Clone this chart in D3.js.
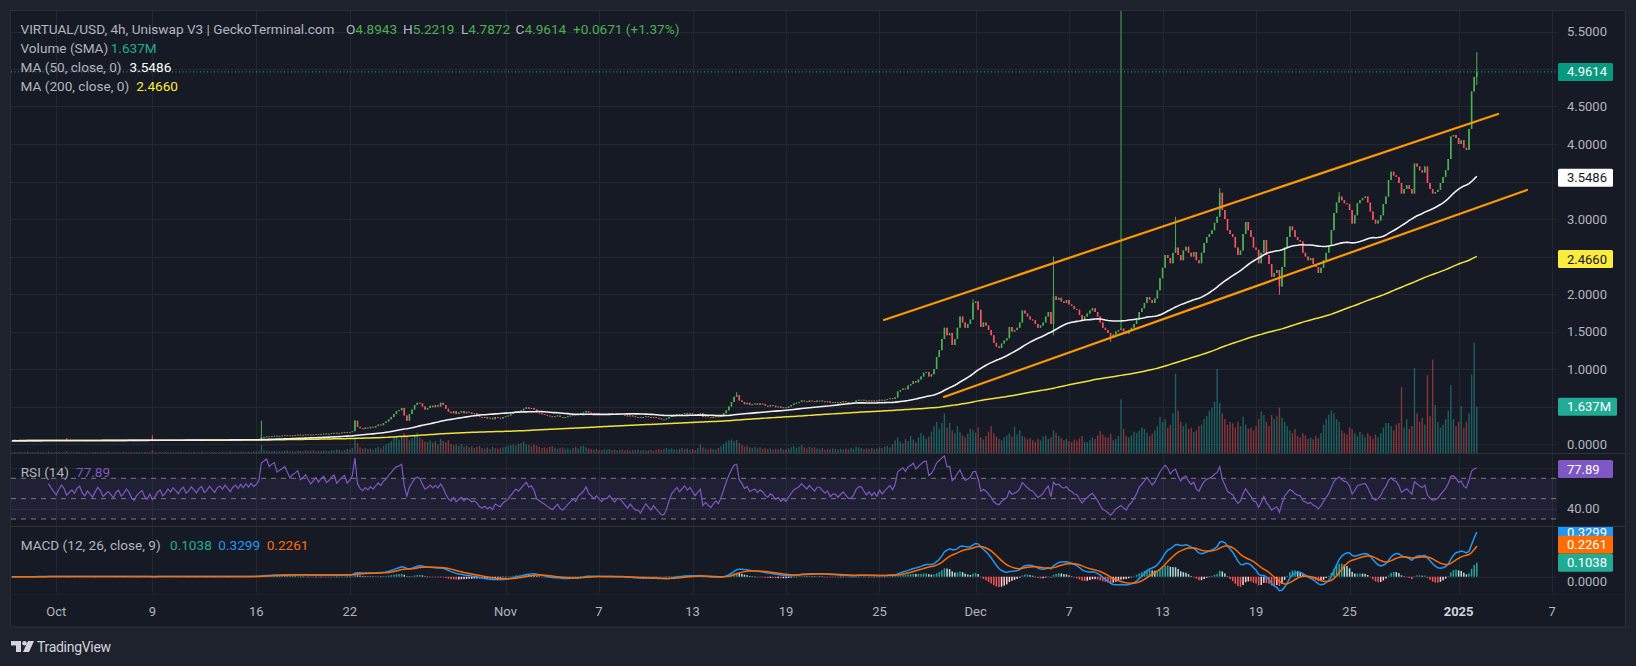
<!DOCTYPE html>
<html><head><meta charset="utf-8">
<script src="https://cdn.jsdelivr.net/npm/d3@7"></script>
<style>
html,body{margin:0;padding:0;background:#1e222d;overflow:hidden;}
svg{display:block;font-family:Roboto,"Noto Sans",sans-serif;}
</style></head><body>
<svg id="c" width="1636" height="666"></svg>
<script>
// ---------- DATA (4h candles, index based like TradingView) ----------
const closesOctEarly = [
0.044,0.045,0.044,0.046,0.045,0.045,0.047,0.046,0.045,0.046,
0.048,0.047,0.046,0.047,0.049,0.048,0.047,0.046,0.048,0.050,
0.049,0.047,0.048,0.049,0.048,0.050,0.051,0.049,0.048,0.050,
0.049,0.048,0.050,0.052,0.051,0.049,0.050,0.051,0.050,0.049,
0.051,0.052,0.050,0.051,0.053,0.052,0.050,0.049,0.051,0.052,
0.053,0.051,0.050,0.052,0.050,
0.051,0.053,0.054,0.052,0.053,0.055,0.054,0.056,0.055,0.054,
0.056,0.057,0.055,0.056,0.058,0.057,0.056,0.058,0.059,0.057,
0.058,0.060,0.059,0.058,0.060,0.061,0.060,0.062,0.061,0.060,
0.062,0.063,0.062,0.064,0.063,0.065,0.064,0.066,0.065];
const closesOctLate = [
0.066,0.068,0.090,0.095,0.102,0.098,0.105,0.110,0.104,0.108,
0.112,0.118,0.114,0.110,0.116,0.120,0.125,0.118,0.122,0.128,
0.124,0.120,0.126,0.132,0.128,0.135,0.140,0.134,0.138,0.145,
0.150,0.142,0.148,0.155,0.160,0.152,0.158,
0.17,0.31,0.23,0.21,0.20,0.22,0.21,0.23,0.22,0.24,
0.26,0.25,0.28,0.30,0.33,0.36,0.40,0.44,0.45,0.48,
0.38,0.31,0.40,0.46,0.52,0.55,0.54,0.50,0.46,0.48,
0.51,0.49,0.52,0.50,0.55,0.52,0.47,0.43,0.41,0.44,
0.40,0.42,0.44,0.41,0.43,0.42,0.40,0.41,0.39,0.36,
0.35,0.36,0.34,0.35,0.33,0.36,0.35,0.34,0.36,0.37];
const closesNov = [
0.38,0.40,0.42,0.44,0.43,0.45,0.47,0.49,0.47,0.48,
0.46,0.42,0.41,0.40,0.39,0.38,0.37,0.36,0.37,0.38,
0.36,0.35,0.36,0.37,0.38,0.39,0.38,0.40,0.41,0.42,
0.44,0.42,0.41,0.40,0.41,0.40,0.39,0.40,0.40,0.41,
0.40,0.39,0.40,0.40,0.39,0.38,0.37,0.38,0.37,0.36,
0.36,0.35,0.36,0.37,0.36,0.35,0.36,0.35,0.34,0.33,
0.33,0.34,0.36,0.38,0.39,0.40,0.39,0.40,0.41,0.40,
0.41,0.40,0.39,0.40,0.41,0.36,0.37,0.36,0.35,0.36,
0.37,0.36,0.38,0.41,0.45,0.50,0.56,0.63,0.65,0.58,
0.56,0.53,0.55,0.52,0.53,0.54,0.52,0.54,0.53,0.51,
0.50,0.52,0.51,0.49,0.50,0.48,0.49,0.48,0.50,0.52,
0.54,0.55,0.56,0.58,0.57,0.56,0.58,0.57,0.56,0.58,
0.58,0.57,0.56,0.57,0.55,0.56,0.56,0.55,0.56,0.57,
0.56,0.55,0.55,0.56,0.58,0.59,0.59,0.58,0.57,0.58,
0.57,0.58,0.57,0.59];
const closesLateNovDec = [
0.58,0.59,0.60,0.61,0.60,0.62,
0.70,0.72,0.74,0.73,0.78,0.80,0.84,0.82,0.86,0.90,
0.95,0.96,0.90,0.93,1.00,1.16,1.25,1.40,1.55,1.45,
1.48,1.32,1.40,1.55,1.70,1.62,1.55,1.60,1.66,1.88,
1.90,1.79,1.56,1.62,1.58,1.52,1.45,1.35,1.30,1.28,
1.34,1.38,1.41,1.56,1.50,1.52,1.55,1.62,1.78,1.74,
1.70,1.66,1.65,1.60,1.55,1.58,1.62,1.70,1.76,1.60,
1.97,1.92,1.95,1.90,1.88,1.92,1.86,1.84,1.80,1.79,
1.72,1.65,1.70,1.74,1.78,1.81,1.76,1.70,1.62,1.55,
1.52,1.48,1.43,1.46,1.50,1.52,1.54,1.50,1.47,1.52,
1.55,1.60,1.66,1.76,1.81,1.88,1.96,1.92,1.88,1.94,
2.05,2.21,2.35,2.52,2.48,2.41,2.55,2.62,2.52,2.45,
2.58,2.63,2.55,2.50,2.56,2.45,2.41,2.55,2.68,2.76];
const closesDecJan = [
2.80,2.85,2.95,3.03,3.35,3.12,3.00,2.85,2.80,2.76,
2.62,2.52,2.58,2.80,2.96,2.85,2.76,2.62,2.59,2.41,
2.55,2.72,2.52,2.40,2.23,2.28,2.32,2.10,2.36,2.62,
2.76,2.90,2.85,2.76,2.72,2.70,2.55,2.50,2.45,2.48,
2.40,2.36,2.28,2.35,2.45,2.55,2.65,2.85,3.08,3.22,
3.30,3.25,3.21,3.20,3.12,2.94,3.05,3.21,3.25,3.28,
3.30,3.22,3.10,2.99,2.94,2.98,3.05,3.20,3.30,3.52,
3.63,3.58,3.56,3.48,3.34,3.40,3.45,3.40,3.34,3.74,
3.70,3.65,3.62,3.70,3.48,3.40,3.34,3.36,3.39,3.48,
3.56,3.65,3.80,4.10,4.12,4.08,4.00,4.05,3.95,3.92,
4.20,4.70,4.8943,4.9614];
// notable wicks (candle index -> price)
const highWicks = {21:0.08, 54:0.115, 96:0.31, 132:0.32, 279:0.69, 370:1.93, 401:2.50, 427:6.0, 448:3.03, 465:3.41, 511:3.36, 564:5.2219};
const lowWicks = {401:1.45, 423:1.36, 488:1.99, 564:4.7872};

// volume in millions
const volumesOct = [
0.02,0.03,0.02,0.04,0.02,0.03,0.05,0.02,0.03,0.02,
0.04,0.02,0.03,0.02,0.05,0.03,0.02,0.03,0.04,0.02,
0.03,0.06,0.02,0.03,0.02,0.04,0.03,0.02,0.03,0.02,
0.02,0.03,0.04,0.02,0.03,0.02,0.03,0.05,0.02,0.03,
0.02,0.03,0.02,0.04,0.03,0.02,0.03,0.02,0.04,0.03,
0.02,0.03,0.02,0.04,0.09,0.03,0.02,0.03,0.02,0.04,
0.03,0.02,0.03,0.02,0.03,0.04,0.02,0.03,0.02,0.03,
0.04,0.02,0.03,0.05,0.02,0.03,0.02,0.04,0.03,0.02,
0.03,0.04,0.02,0.03,0.05,0.03,0.04,0.03,0.05,0.04,
0.03,0.05,0.04,0.06,0.05,0.06,0.28,0.10,0.08,0.07,
0.06,0.08,0.05,0.07,0.06,0.08,0.09,0.06,0.07,0.05,
0.08,0.07,0.06,0.09,0.07,0.08,0.10,0.06,0.08,0.07,
0.09,0.08,0.07,0.10,0.09,0.12,0.11,0.08,0.10,0.14,
0.12,0.18,0.55,0.35,0.20,0.15,0.18,0.14,0.16,0.12,
0.18,0.22,0.16,0.25,0.30,0.35,0.42,0.55,0.60,0.48,
0.62,0.70,0.58,0.45,0.52,0.66,0.72,0.55,0.48,0.40,
0.38,0.44,0.36,0.42,0.30,0.50,0.42,0.38,0.45,0.32,
0.28,0.30,0.25,0.32,0.22,0.26,0.20,0.24,0.18,0.22,
0.25,0.18,0.16,0.20,0.14,0.22,0.18,0.15,0.17,0.20];
const volumesNov = [
0.22,0.25,0.28,0.30,0.26,0.32,0.35,0.40,0.30,0.28,
0.24,0.30,0.26,0.22,0.18,0.20,0.16,0.22,0.24,0.18,
0.15,0.18,0.20,0.14,0.16,0.12,0.18,0.22,0.16,0.24,
0.26,0.20,0.16,0.14,0.12,0.15,0.11,0.10,0.13,0.12,
0.14,0.10,0.12,0.09,0.11,0.13,0.10,0.12,0.09,0.11,
0.10,0.12,0.09,0.11,0.08,0.10,0.12,0.09,0.11,0.14,
0.12,0.15,0.18,0.14,0.16,0.13,0.12,0.15,0.18,0.14,
0.16,0.12,0.14,0.11,0.18,0.30,0.20,0.15,0.12,0.16,
0.14,0.12,0.18,0.24,0.32,0.40,0.45,0.48,0.42,0.46,
0.35,0.28,0.22,0.26,0.20,0.18,0.22,0.16,0.20,0.15,
0.18,0.14,0.16,0.12,0.15,0.13,0.17,0.12,0.14,0.16,
0.20,0.24,0.18,0.22,0.28,0.20,0.16,0.22,0.18,0.20,
0.16,0.14,0.18,0.12,0.15,0.13,0.16,0.14,0.12,0.15,
0.13,0.16,0.14,0.18,0.15,0.22,0.20,0.17,0.14,0.16,
0.15,0.18,0.14,0.16,0.20,0.18,0.22,0.25,0.20,0.30,
0.45,0.55,0.40,0.35,0.50,0.42,0.60,0.48,0.38,0.55,
0.70,0.62,0.50,0.58,0.75,0.95,1.10,0.85,1.06,1.40,
0.90,1.06,0.80,0.70,0.95,0.75,0.62,0.55,0.68,0.85];
const volumesDecJan = [
0.80,0.72,0.90,0.55,0.48,0.60,0.75,0.95,0.70,0.58,
0.50,0.45,0.55,0.62,0.70,0.58,0.93,0.65,0.80,0.60,
0.55,0.48,0.52,0.45,0.40,0.50,0.44,0.58,0.62,0.50,
0.55,0.81,0.70,0.60,0.52,0.45,0.50,0.42,0.38,0.48,
0.44,0.52,0.60,0.40,0.38,0.45,0.55,0.50,0.62,0.78,
0.65,0.58,0.55,0.68,0.45,0.50,0.60,1.90,0.85,0.60,
0.55,0.62,0.75,0.70,0.78,0.90,0.85,0.72,0.60,0.68,
0.80,0.95,1.28,1.10,1.20,0.90,1.00,1.40,2.80,1.50,
1.10,0.95,1.05,0.85,0.90,0.75,0.80,0.95,1.00,1.20,
1.30,1.50,1.60,1.81,2.97,1.77,1.40,1.20,1.00,1.10,
1.05,0.90,1.10,0.95,1.28,1.00,0.85,0.90,0.80,0.95,
1.20,1.47,1.34,1.10,0.95,1.34,1.20,1.30,1.60,1.25,
1.10,0.95,0.80,0.70,0.85,0.60,0.55,0.70,0.62,0.50,
0.55,0.48,0.60,0.52,0.70,1.00,1.20,1.35,1.50,1.40,
1.20,1.10,0.80,0.70,0.65,0.90,0.85,0.70,0.60,0.75,
0.65,0.55,0.70,0.60,0.50,0.65,0.55,0.70,0.90,1.06,
1.06,0.95,0.80,1.00,1.06,2.33,0.90,1.20,0.85,0.95,
3.00,1.40,1.10,1.25,1.00,2.75,1.30,3.30,1.70,1.10,
0.90,1.00,1.20,1.50,2.40,1.20,0.95,1.10,1.66,0.90,
1.10,1.40,2.77,3.90,1.637];

const timeTickIndex = [17,54,94,130,190,226,262,298,334,371,407,443,479,515,557,593];
const timeTickLabels = ["Oct","9","16","22","Nov","7","13","19","25","Dec","7","13","19","25","2025","7"];
const priceTicks = [0,0.5,1,1.5,2,2.5,3,3.5,4,4.5,5,5.5];
const rsiGrid = [40,80];
const rsiBands = [70,50,30];
// channel drawn on chart: [candle index, price]
const upperChannel = [[335.7,1.653],[572.2,4.40]];
const lowerChannel = [[358.8,0.627],[583.3,3.387]];
// legend values as shown
const ohlcLegend = {O:"4.8943",H:"5.2219",L:"4.7872",C:"4.9614",chg:"+0.0671 (+1.37%)"};
const volLegend = "1.637M", ma50Legend = "3.5486", ma200Legend = "2.4660";
const lastClose = 4.9614, lastMA50 = 3.5486, lastMA200 = 2.4660, lastVol = 1.637;
const rsiLegend = 77.89;
const macdLegend = {hist:0.1038, macd:0.3299, signal:0.2261};

// ---------- derived ----------
const closes = [].concat(closesOctEarly, closesOctLate, closesNov, closesLateNovDec, closesDecJan);
const volumes = [].concat(volumesOct, volumesNov, volumesDecJan);
const N = closes.length;
const candles = closes.map((c,i)=>{
  const o = i ? closes[i-1] : c;
  const h = Math.max(o,c, highWicks[i]??-1);
  const l = Math.min(o,c, lowWicks[i]??99);
  return {i,o,h,l,c,v:volumes[i]};
});
candles[N-1].o = 4.8943;
function sma(arr,n){return arr.map((_,i)=>{const s=Math.max(0,i-n+1);return d3.mean(arr.slice(s,i+1));});}
function ema(arr,n){const a=2/(n+1);let out=[],p=arr[0];arr.forEach((v,i)=>{p=i?a*v+(1-a)*p:v;out.push(p);});return out;}
function rsi(arr,n){let out=[],ag=0,al=0;for(let i=1;i<arr.length;i++){const ch=arr[i]-arr[i-1],g=Math.max(ch,0),l=Math.max(-ch,0);
  if(i<=n){ag+=g/n;al+=l/n;}else{ag=(ag*(n-1)+g)/n;al=(al*(n-1)+l)/n;}
  if(i>=n) out.push({i,v: al===0?100:100-100/(1+ag/al)});}return out;}
const ma50 = sma(closes,50), ma200 = sma(closes,200);
const e12=ema(closes,12), e26=ema(closes,26);
const macd = e12.map((v,i)=>v-e26[i]);
const signal = ema(macd,9);
const hist = macd.map((v,i)=>v-signal[i]);
const rsiVals = rsi(closes,14);

// ---------- layout ----------
const svg=d3.select('#c');
const X0=12.1, STEP=2.597;
const x=d3.scaleLinear().domain([0,1]).range([X0,X0+STEP]);
const L=11, R=1557, FR=1625;
const yP=d3.scaleLinear().domain([0,5.5]).range([444,31.5]);
const yV=d3.scaleLinear().domain([0,1]).range([453,453-28.3]);
const yR=d3.scaleLinear().domain([30,70]).range([519,478.3]);
const yM=d3.scaleLinear().domain([0,1]).range([576.7,441.7]);
const gray="#b2b5be", up="#4caf50", dn="#f7525f";

svg.append('rect').attr('width',1636).attr('height',666).attr('fill','#1e222d');
svg.append('rect').attr('x',10.5).attr('y',10.5).attr('width',FR-10).attr('height',616.5).attr('fill','#161a25').attr('stroke','#2a2e39');
const defs=svg.append('defs');
function clip(id,y0,y1){defs.append('clipPath').attr('id',id).append('rect').attr('x',L).attr('y',y0).attr('width',R-L).attr('height',y1-y0);}
clip('cm',11,453);clip('cr',453.5,526);clip('cq',526.5,594);

// grid
const grid=svg.append('g').attr('stroke','#232733').attr('stroke-width',1);
timeTickIndex.forEach(t=>{const xx=Math.round(x(t))+0.5;grid.append('line').attr('x1',xx).attr('x2',xx).attr('y1',11).attr('y2',594);});
priceTicks.forEach(p=>{const yy=Math.round(yP(p))+0.5;grid.append('line').attr('x1',L).attr('x2',R).attr('y1',yy).attr('y2',yy);});
rsiGrid.forEach(p=>{const yy=Math.round(yR(p))+0.5;grid.append('line').attr('x1',L).attr('x2',R).attr('y1',yy).attr('y2',yy);});
grid.append('line').attr('x1',L).attr('x2',R).attr('y1',Math.round(yM(0))+0.5).attr('y2',Math.round(yM(0))+0.5);

// pane separators
[453.5,526.5].forEach(yy=>svg.append('line').attr('x1',10).attr('x2',FR).attr('y1',yy).attr('y2',yy).attr('stroke','#2e323e'));
svg.append('line').attr('x1',10).attr('x2',FR).attr('y1',594.5).attr('y2',594.5).attr('stroke','#1c2029');

// main pane
const gm=svg.append('g').attr('clip-path','url(#cm)');
gm.selectAll('.v').data(candles).enter().append('rect')
 .attr('x',d=>x(d.i)-0.7).attr('width',1.4)
 .attr('y',d=>yV(d.v)).attr('height',d=>Math.max(0.8,yV(0)-yV(d.v)))
 .attr('fill',d=>d.c>=d.o?'rgba(38,166,154,0.5)':'rgba(239,83,80,0.5)');
gm.selectAll('.w').data(candles).enter().append('line')
 .attr('x1',d=>x(d.i)).attr('x2',d=>x(d.i)).attr('y1',d=>yP(d.h)).attr('y2',d=>yP(d.l))
 .attr('stroke',d=>d.c>=d.o?up:dn).attr('stroke-width',1);
gm.selectAll('.b').data(candles).enter().append('rect')
 .attr('x',d=>x(d.i)-0.8).attr('width',1.6)
 .attr('y',d=>yP(Math.max(d.o,d.c))).attr('height',d=>Math.max(1,Math.abs(yP(d.o)-yP(d.c))))
 .attr('fill',d=>d.c>=d.o?up:dn);
const lineP=d3.line().x((d,i)=>x(i)).y(d=>yP(d));
gm.append('path').attr('d',lineP(ma200)).attr('fill','none').attr('stroke','#f2e23a').attr('stroke-width',1.5);
gm.append('path').attr('d',lineP(ma50)).attr('fill','none').attr('stroke','#f0f0f0').attr('stroke-width',1.6);
const lineC=d3.line().x(d=>x(d[0])).y(d=>yP(d[1]));
[upperChannel,lowerChannel].forEach(c=>gm.append('path').attr('d',lineC(c)).attr('stroke','#ff9800').attr('stroke-width',2.2).attr('fill','none').attr('stroke-linecap','round'));
gm.append('line').attr('x1',L).attr('x2',R).attr('y1',yP(lastClose)).attr('y2',yP(lastClose))
 .attr('stroke','#22ab94').attr('stroke-dasharray','1,2.5');

// RSI pane
const gr=svg.append('g').attr('clip-path','url(#cr)');
gr.append('rect').attr('x',L).attr('width',R-L).attr('y',yR(70)).attr('height',yR(30)-yR(70)).attr('fill','rgba(126,87,194,0.1)');
rsiBands.forEach(b=>gr.append('line').attr('x1',L).attr('x2',R).attr('y1',yR(b)).attr('y2',yR(b)).attr('stroke','#787b86').attr('stroke-dasharray','5,5'));
gr.append('path').attr('d',d3.line().x(d=>x(d.i)).y(d=>yR(d.v))(rsiVals)).attr('fill','none').attr('stroke','#7e57c2').attr('stroke-width',1.2);

// MACD pane
const gq=svg.append('g').attr('clip-path','url(#cq)');
gq.selectAll('.h').data(hist).enter().append('rect')
 .attr('x',(d,i)=>x(i)-0.75).attr('width',1.5)
 .attr('y',d=>Math.min(yM(d),yM(0))).attr('height',d=>Math.max(0.5,Math.abs(yM(d)-yM(0))))
 .attr('fill',(d,i)=>{const p=i?hist[i-1]:d; return d>=0?(d>p?'#26a69a':'#b2dfdb'):(d<p?'#ff5252':'#ffcdd2');});
const lineM=d3.line().x((d,i)=>x(i)).y(d=>yM(d));
gq.append('path').attr('d',lineM(macd)).attr('fill','none').attr('stroke','#2196f3').attr('stroke-width',1.5);
gq.append('path').attr('d',lineM(signal)).attr('fill','none').attr('stroke','#ff6d00').attr('stroke-width',1.5);

// badges on the price scale (they hide the tick labels they cover)
const badgeY = [yP(lastClose), yP(lastMA50), yP(lastMA200), yV(lastVol)];
const ax=svg.append('g').attr('font-size',13).attr('fill',gray).attr('dominant-baseline','central');
priceTicks.forEach(p=>{const yy=yP(p); if(badgeY.some(b=>Math.abs(b-yy)<15)) return;
  ax.append('text').attr('x',1567).attr('y',yy).text(p.toFixed(4));});
ax.append('text').attr('x',1567).attr('y',yR(40)).text('40.00');
ax.append('text').attr('x',1567).attr('y',yM(0)+5).text('0.0000');

function badge(yc,txt,bg,fg,w,clipId){
  const g=svg.append('g'); if(clipId) g.attr('clip-path',`url(#${clipId})`);
  g.append('rect').attr('x',1558).attr('y',yc-9).attr('width',w||55).attr('height',18).attr('rx',1.5).attr('fill',bg);
  g.append('text').attr('x',1567).attr('y',yc).attr('dominant-baseline','central').attr('font-size',13).attr('fill',fg).text(txt);
}
defs.append('clipPath').attr('id','cqa').append('rect').attr('x',1550).attr('y',527).attr('width',80).attr('height',70);
badge(yP(lastClose),lastClose.toFixed(4),'#089981','#ffffff');
badge(yP(lastMA50),lastMA50.toFixed(4),'#ffffff','#131722');
badge(yP(lastMA200),lastMA200.toFixed(4),'#ffeb3b','#131722');
badge(yV(lastVol),volLegend,'#22ab94','#ffffff',59);
badge(469,rsiLegend.toFixed(2),'#7e57c2','#ffffff');
badge(yM(macdLegend.macd),macdLegend.macd.toFixed(4),'#2196f3','#ffffff',55,'cqa');
badge(yM(macdLegend.hist)-18,macdLegend.signal.toFixed(4),'#ff6d00','#ffffff');
badge(yM(macdLegend.hist),macdLegend.hist.toFixed(4),'#22ab94','#ffffff');

// time axis
const ta=svg.append('g').attr('font-size',13).attr('fill',gray).attr('text-anchor','middle').attr('dominant-baseline','central');
timeTickIndex.forEach((t,k)=>{const tx=ta.append('text').attr('x',x(t)).attr('y',611.5).text(timeTickLabels[k]);
  if(timeTickLabels[k]==='2025') tx.attr('font-weight','bold').attr('fill','#d1d4dc');});

// legends
const lg=svg.append('g').attr('font-size',13.6).attr('dominant-baseline','central');
function leg(xx,yy,parts){const t=lg.append('text').attr('x',xx).attr('y',yy);parts.forEach(p=>t.append('tspan').attr('fill',p[1]).text(p[0]));}
leg(20.5,29,[["VIRTUAL/USD, 4h, Uniswap V3 | GeckoTerminal.com",gray]]);
leg(346,29,[["O",gray],[ohlcLegend.O,up]]);
leg(403,29,[["H",gray],[ohlcLegend.H,up]]);
leg(461,29,[["L",gray],[ohlcLegend.L,up]]);
leg(515.6,29,[["C",gray],[ohlcLegend.C,up]]);
leg(573,29,[[ohlcLegend.chg,up]]);
leg(20.5,48,[["Volume (SMA)",gray]]); leg(110.7,48,[[volLegend,'#22ab94']]);
leg(20.5,67,[["MA (50, close, 0)",gray]]); leg(129.5,67,[[ma50Legend,'#ffffff']]);
leg(20.5,86,[["MA (200, close, 0)",gray]]); leg(136.2,86,[[ma200Legend,'#ffeb3b']]);
leg(20.7,471.7,[["RSI (14)",gray]]); leg(76,471.7,[[rsiLegend.toFixed(2),'#7e57c2']]);
leg(20.7,545,[["MACD (12, 26, close, 9)",gray]]);
leg(170,545,[[macdLegend.hist.toFixed(4),'#22ab94']]);
leg(218.3,545,[[macdLegend.macd.toFixed(4),'#2196f3']]);
leg(266.7,545,[[macdLegend.signal.toFixed(4),'#ff6d00']]);

// TradingView logo
const lo=svg.append('g').attr('fill','#d1d4dc');
lo.append('path').attr('d','M11,641 h10 v11 h-5 v-6.5 h-5 z');
lo.append('circle').attr('cx',24.5).attr('cy',643.3).attr('r',2.3);
lo.append('path').attr('d','M28,641 h6 l-5,11 h-6 z');
lo.append('text').attr('x',37).attr('y',647).attr('dominant-baseline','central').attr('font-size',14).attr('letter-spacing',-0.3).text('TradingView');
</script>
</body></html>
